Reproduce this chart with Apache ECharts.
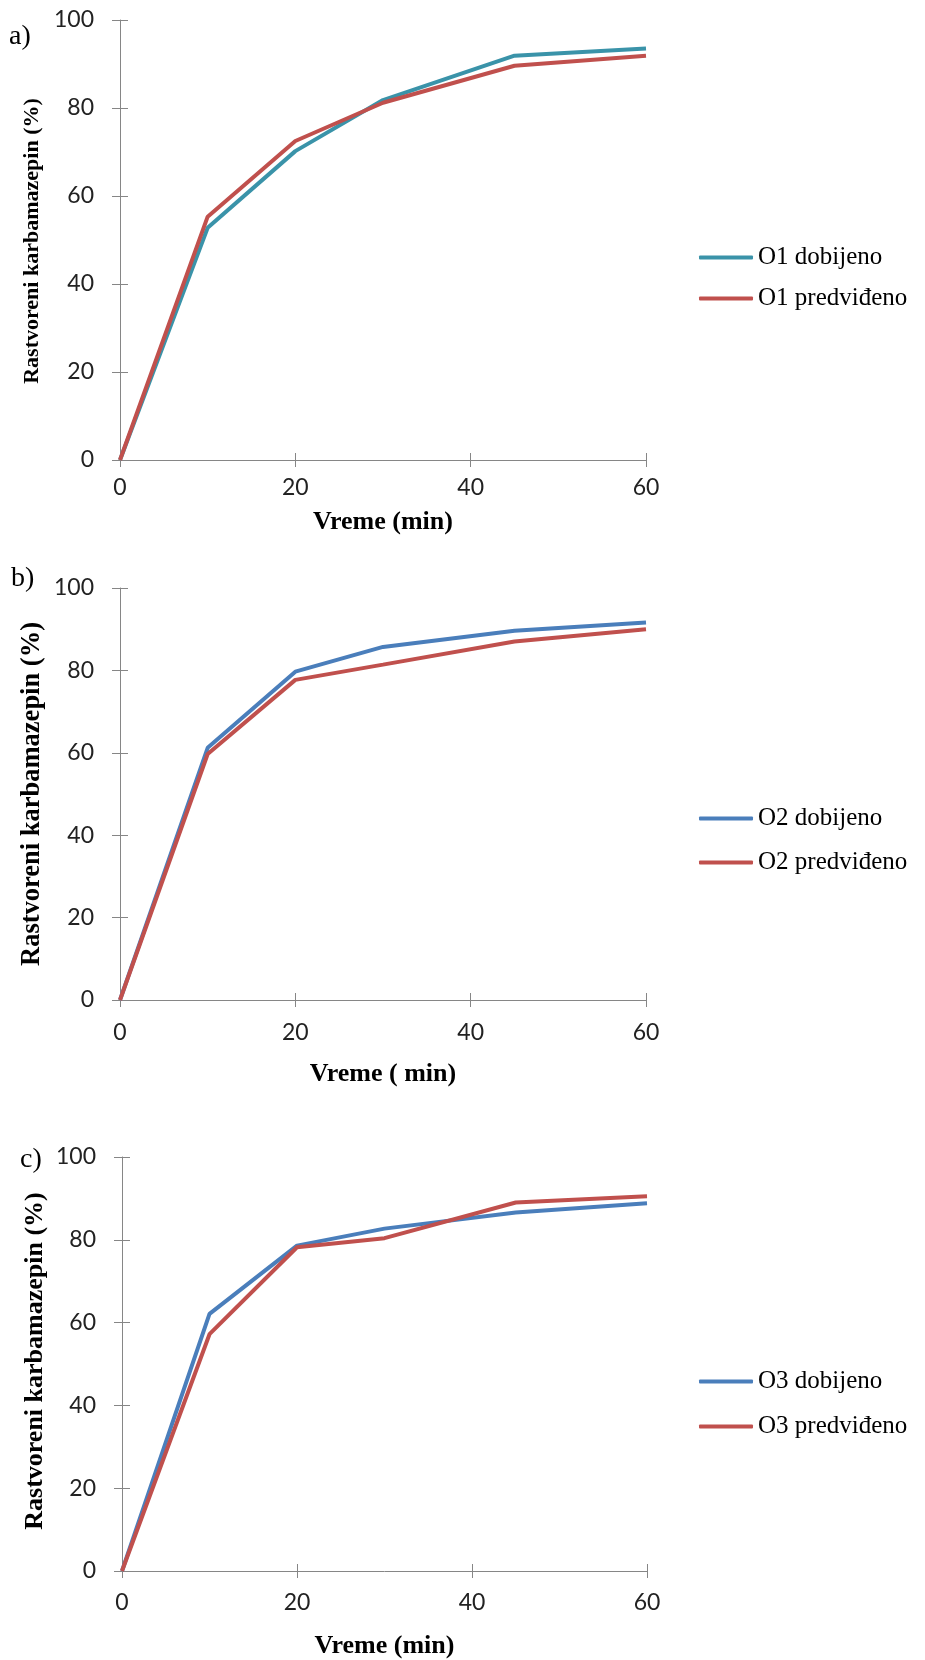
<!DOCTYPE html>
<html>
<head>
<meta charset="utf-8">
<script src="https://cdn.jsdelivr.net/npm/echarts@6/dist/echarts.min.js"></script>
<style>
html,body{margin:0;padding:0;background:#fff;}
#c{width:925px;height:1660px;}
</style>
</head>
<body>
<div id="c"></div>
<script>
// ---- data ----
var times = [0, 10, 20, 30, 45, 60];
var xTicks = [0, 20, 40, 60];
var yTicks = [0, 20, 40, 60, 80, 100];
var panelLabels = ['a)', 'b)', 'c)'];
var xTitles = ['Vreme (min)', 'Vreme ( min)', 'Vreme (min)'];
var yTitle = 'Rastvoreni karbamazepin (%)';

var O1_dobijeno   = [0, 52.8, 70.2, 81.8, 91.9, 93.5];
var O1_predvideno = [0, 55.3, 72.5, 81.2, 89.6, 91.9];
var O2_dobijeno   = [0, 61.2, 79.7, 85.7, 89.6, 91.6];
var O2_predvideno = [0, 59.7, 77.7, 81.4, 87.0, 90.0];
var O3_dobijeno   = [0, 62.1, 78.6, 82.7, 86.6, 88.8];
var O3_predvideno = [0, 57.2, 78.2, 80.4, 89.0, 90.5];

var seriesNames = [
  ['O1 dobijeno', 'O1 predviđeno'],
  ['O2 dobijeno', 'O2 predviđeno'],
  ['O3 dobijeno', 'O3 predviđeno']
];
var seriesValues = [
  [O1_dobijeno, O1_predvideno],
  [O2_dobijeno, O2_predvideno],
  [O3_dobijeno, O3_predvideno]
];

// ---- layout / style ----
var grids = [
  {left: 120, top: 20, width: 526, height: 440},
  {left: 120, top: 588, width: 526, height: 412},
  {left: 122, top: 1157, width: 525, height: 414}
];
var xLabelMargin = [16, 21, 20];
var xNameGap = [49, 61, 62];
var seriesColors = [
  ['#3A93A9', '#C0504D'],
  ['#4A7EBB', '#C0504D'],
  ['#4A7EBB', '#C0504D']
];
var legendTop = [240, 801, 1364];
var legendGap = [16, 19, 20];
var yTitlePos = [[32, 241, 22], [32, 794, 26.5], [35, 1361, 26]];
var panelPos = [[9, 37], [11, 579], [20, 1160]];

var axisGray = '#868686';
var tickFont = 'Lato';
var serif = '"Liberation Serif", "Times New Roman", serif';

var xAxes = [], yAxes = [], series = [], legends = [], graphics = [];

for (var k = 0; k < 3; k++) {
  xAxes.push({
    type: 'value', gridIndex: k, position: 'bottom', min: 0, max: 60, interval: 20,
    axisLine: {show: true, lineStyle: {color: axisGray, width: 1}},
    axisTick: {show: true, length: 7, lineStyle: {color: axisGray}},
    axisLabel: {margin: xLabelMargin[k], fontFamily: tickFont, fontSize: 23, color: '#222'},
    splitLine: {show: false},
    name: xTitles[k], nameLocation: 'middle', nameGap: xNameGap[k],
    nameTextStyle: {fontFamily: serif, fontWeight: 'bold', fontSize: 26, color: '#000'}
  });
  xAxes.push({
    type: 'value', gridIndex: k, position: 'bottom', min: 0, max: 60, interval: 20,
    axisLine: {show: false},
    axisTick: {show: true, inside: true, length: 7, lineStyle: {color: axisGray}},
    axisLabel: {show: false}, splitLine: {show: false}
  });
  yAxes.push({
    type: 'value', gridIndex: k, position: 'left', min: 0, max: 100, interval: 20,
    axisLine: {show: true, lineStyle: {color: axisGray, width: 1}},
    axisTick: {show: true, length: 8, lineStyle: {color: axisGray}},
    axisLabel: {margin: 26, fontFamily: tickFont, fontSize: 23, color: '#222'},
    splitLine: {show: false}
  });
  yAxes.push({
    type: 'value', gridIndex: k, position: 'left', min: 0, max: 100, interval: 20,
    axisLine: {show: false},
    axisTick: {show: true, inside: true, length: 8, lineStyle: {color: axisGray}},
    axisLabel: {show: false}, splitLine: {show: false}
  });

  for (var s = 0; s < 2; s++) {
    var vals = seriesValues[k][s];
    var pts = times.map(function (t, i) { return [t, vals[i]]; });
    series.push({
      type: 'line', name: seriesNames[k][s],
      xAxisIndex: k * 2, yAxisIndex: k * 2,
      data: pts, symbol: 'none', clip: false,
      lineStyle: {color: seriesColors[k][s], width: 4},
      itemStyle: {color: seriesColors[k][s]},
      emphasis: {disabled: true}
    });
  }

  legends.push({
    data: seriesNames[k].map(function (n) { return {name: n, icon: 'roundRect'}; }),
    orient: 'vertical', left: 694, top: legendTop[k],
    itemWidth: 54, itemHeight: 4, itemGap: legendGap[k],
    textStyle: {fontFamily: serif, fontSize: 25, color: '#000', lineHeight: 24},
    selectedMode: false
  });

  graphics.push({
    type: 'text', x: yTitlePos[k][0], y: yTitlePos[k][1], rotation: Math.PI / 2,
    style: {text: yTitle, fontFamily: serif, fontWeight: 'bold', fontSize: yTitlePos[k][2],
            fill: '#000', align: 'center', verticalAlign: 'middle'}
  });
  graphics.push({
    type: 'text', x: panelPos[k][0], y: panelPos[k][1],
    style: {text: panelLabels[k], fontFamily: serif, fontSize: 28, fill: '#000',
            align: 'left', verticalAlign: 'middle'}
  });
}

var chart = echarts.init(document.getElementById('c'), null, {renderer: 'canvas'});
chart.setOption({
  animation: false,
  backgroundColor: '#fff',
  grid: grids,
  xAxis: xAxes,
  yAxis: yAxes,
  legend: legends,
  graphic: graphics,
  series: series
});
</script>
</body>
</html>
